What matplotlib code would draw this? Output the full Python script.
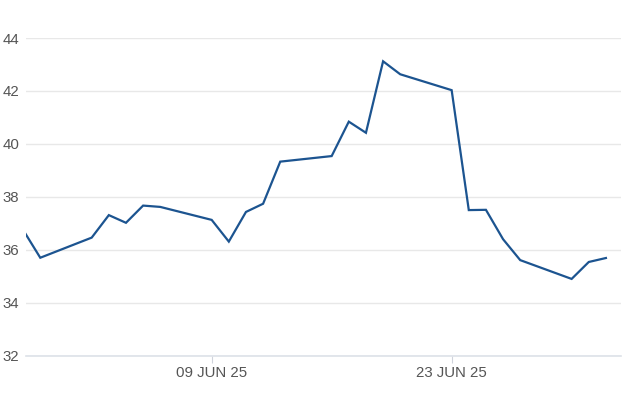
import numpy as np
import matplotlib
matplotlib.use("Agg")
import matplotlib.pyplot as plt
import matplotlib.dates as mdates
import datetime as dt

# trading days (weekends skipped) and closing values
dates = ["2025-05-29", "2025-05-30",
         "2025-06-02", "2025-06-03", "2025-06-04", "2025-06-05", "2025-06-06",
         "2025-06-09", "2025-06-10", "2025-06-11", "2025-06-12", "2025-06-13",
         "2025-06-16", "2025-06-17", "2025-06-18", "2025-06-19", "2025-06-20",
         "2025-06-23", "2025-06-24", "2025-06-25", "2025-06-26", "2025-06-27",
         "2025-06-30", "2025-07-01", "2025-07-02"]
values = [36.75, 35.70,
          36.46, 37.31, 37.02, 37.67, 37.62,
          37.13, 36.31, 37.43, 37.74, 39.33,
          39.54, 40.84, 40.42, 43.12, 42.63,
          42.03, 37.50, 37.51, 36.40, 35.61,
          34.90, 35.54, 35.69]
y_ticks = [32, 34, 36, 38, 40, 42, 44]
x_ticks = ["2025-06-09", "2025-06-23"]

x = [dt.datetime.strptime(d, "%Y-%m-%d") for d in dates]

plt.rcParams['font.family'] = ['Liberation Sans', 'DejaVu Sans']

fig = plt.figure(figsize=(6.26, 4.17), dpi=100)
ax = fig.add_axes([25.7 / 626, 1 - 355.7 / 417, (621 - 25.7) / 626, (355.7 - 38) / 417])

ax.plot(x, values, color="#1c5490", linewidth=1.6, solid_joinstyle="miter")

ax.set_ylim(32, 44)
ax.set_yticks(y_ticks)
ax.set_xlim(x[0] + dt.timedelta(days=0.15), x[7] + dt.timedelta(days=23.88))
ax.set_xticks([dt.datetime.strptime(d, "%Y-%m-%d") for d in x_ticks])
labels = [dt.datetime.strptime(d, "%Y-%m-%d").strftime("%d %b %y").upper() for d in x_ticks]
ax.set_xticklabels(labels)

ax.grid(axis="y", color="#e8e8e8", linewidth=1)
ax.set_axisbelow(True)
for s in ["top", "right", "left"]:
    ax.spines[s].set_visible(False)
ax.spines["bottom"].set_color("#dde1e8")
ax.spines["bottom"].set_linewidth(1.2)

ax.tick_params(axis="y", length=0, pad=4.5, labelsize=10.8, labelcolor="#555555")
ax.tick_params(axis="x", length=5, width=0.8, color="#d0d4dc", pad=2.2,
               labelsize=10.8, labelcolor="#555555")

fig.savefig("out.png", dpi=100)
